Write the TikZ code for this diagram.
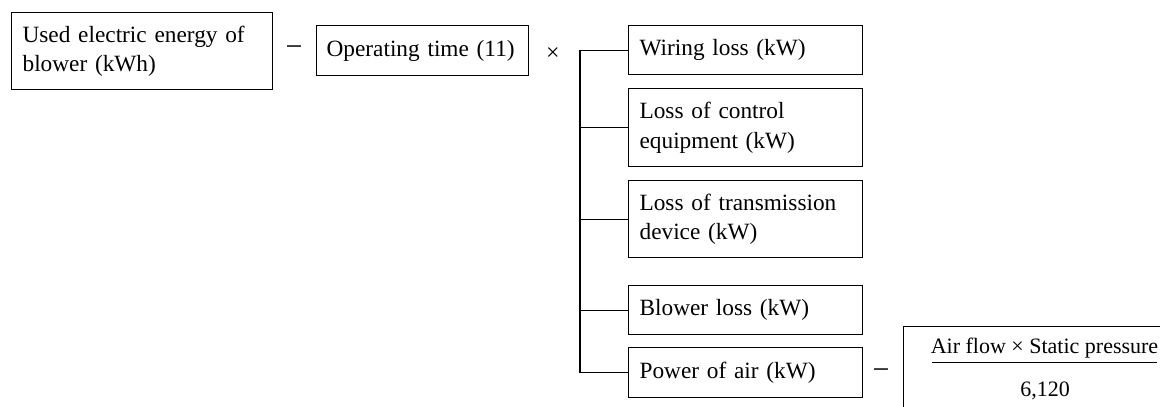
\documentclass[tikz,border=0pt]{standalone}
\usepackage{fontspec}
\setmainfont{Liberation Serif}
\begin{document}
\begin{tikzpicture}[x=1pt,y=-1pt,
  box/.style={draw, line width=1.2pt, rectangle, anchor=north west, align=left,
    inner xsep=11pt, inner ysep=0pt, font=\fontsize{23.3}{29.5}\selectfont},
  opsign/.style={inner sep=0pt, anchor=base},
  link/.style={line width=1.2pt}]
\useasboundingbox (0,0) rectangle (1160,407);
\clip (0,0) rectangle (1160,407);

% left part of the relation
\node[box, text width=239pt, minimum height=77pt] (used) at (11,12)
  {Used electric energy of\\blower (kWh)};
\node[opsign, font=\fontsize{30}{30}\selectfont] (eq1) at (294,56.5) {−};
\node[box, text width=192pt, minimum height=50pt, inner xsep=10pt] (time) at (316,25)
  {Operating time (11)};
\node[opsign, font=\fontsize{24}{24}\selectfont] (times) at (553,60) {×};

% list of losses
\node[box, text width=212pt, minimum height=49pt] (wire)  at (628,25)  {Wiring loss (kW)};
\node[box, text width=212pt, minimum height=78pt] (ctrl)  at (628,88)  {Loss of control\\equipment (kW)};
\node[box, text width=212pt, minimum height=77pt] (trans) at (628,180) {Loss of transmission\\device (kW)};
\node[box, text width=212pt, minimum height=49pt] (blow)  at (628,285) {Blower loss (kW)};
\node[box, text width=212pt, minimum height=50pt] (air)   at (628,347) {Power of air (kW)};

% bracket joining the losses
\coordinate (spine) at (580,0);
\draw[link] (wire.west) -- (wire.west -| spine) -- (air.west -| spine) -- (air.west);
\foreach \n in {ctrl,trans,blow}
  \draw[link] (\n.west) -- (\n.west -| spine);

% air power formula
\node[opsign, font=\fontsize{30}{30}\selectfont] (eq2) at (881,379.5) {−};
\node[draw, line width=1.2pt, anchor=north west, minimum width=320pt,
  minimum height=120pt] (fracbox) at (903,326) {};
\node[opsign, font=\fontsize{22}{22}\selectfont] (num) at (1044.5,353)
  {Air flow × Static pressure};
\node[opsign, font=\fontsize{22}{22}\selectfont] (den) at (1045,396) {6,120};
\coordinate (barL) at (932,362);
\coordinate (barR) at (1157,362);
\draw[line width=1pt] (barL) -- (barR);
\end{tikzpicture}
\end{document}
